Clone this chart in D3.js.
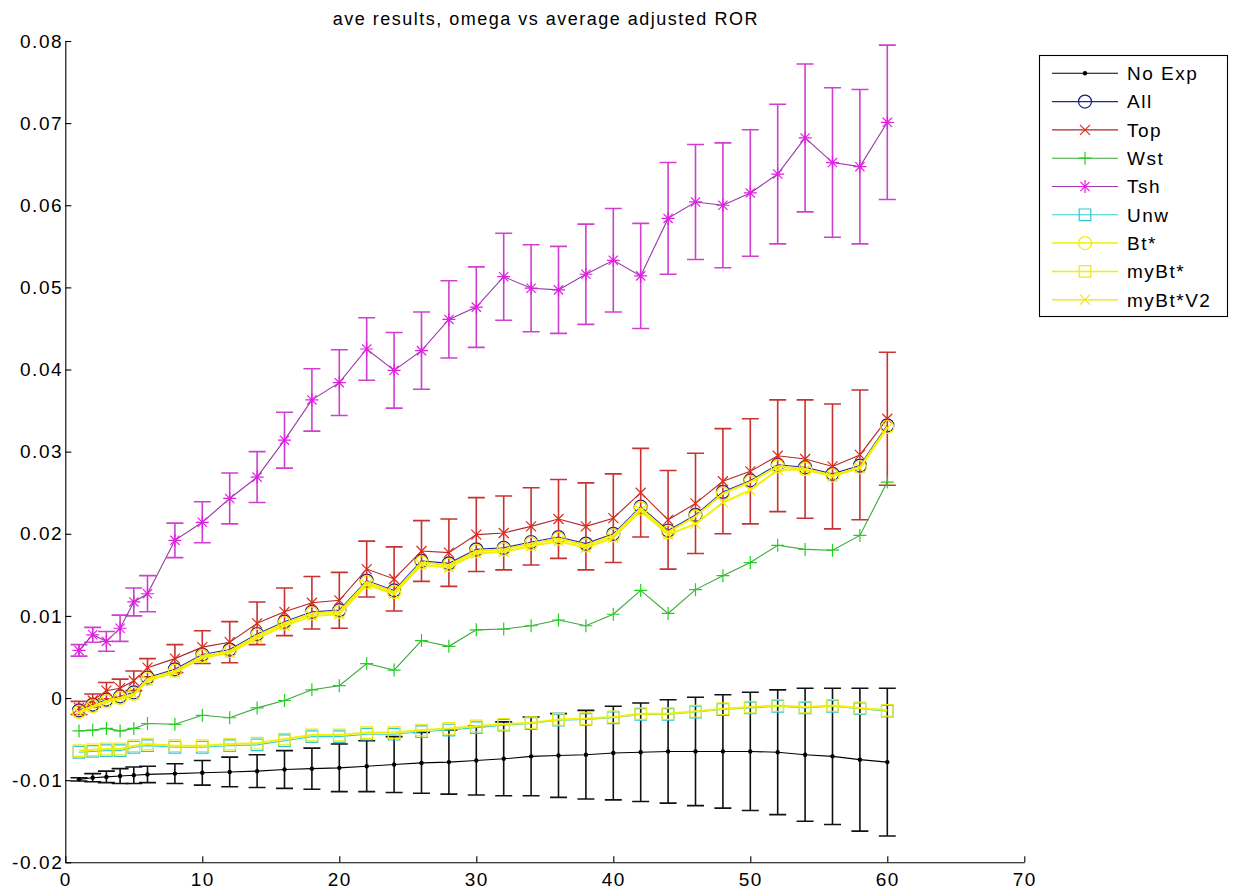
<!DOCTYPE html>
<html><head><meta charset="utf-8">
<script src="https://cdn.jsdelivr.net/npm/d3@7"></script>
<style>
body{margin:0;background:#fff}
svg{display:block}
text{font-family:"Liberation Sans",Arial,Helvetica,sans-serif}
</style>
</head><body>
<svg id="c" width="1233" height="895"></svg>
<script>
const xVals=[1,2,3,4,5,6,8,10,12,14,16,18,20,22,24,26,28,30,32,34,36,38,40,42,44,46,48,50,52,54,56,58,60];
const xTicks=[0,10,20,30,40,50,60,70];
const yTicks=[-0.02,-0.01,0,0.01,0.02,0.03,0.04,0.05,0.06,0.07,0.08];
const seriesNames=["No Exp","All","Top","Wst","Tsh","Unw","Bt*","myBt*","myBt*V2"];

const noExpV=[-0.0099,-0.0097,-0.0096,-0.0095,-0.0094,-0.0093,-0.0092,-0.0091,-0.0090,-0.0089,-0.0087,-0.0086,-0.0085,-0.0083,-0.0081,-0.0079,-0.0078,-0.0076,-0.0074,-0.0071,-0.0070,-0.0069,-0.0067,-0.0066,-0.0065,-0.0065,-0.0065,-0.0065,-0.0066,-0.0069,-0.0071,-0.0075,-0.0078];
const noExpErr=[0.0002,0.0005,0.0007,0.0009,0.0010,0.0010,0.0012,0.0015,0.0018,0.0020,0.0023,0.0025,0.0029,0.0031,0.0034,0.0037,0.0039,0.0042,0.0045,0.0048,0.0051,0.0054,0.0057,0.0060,0.0063,0.0066,0.0069,0.0072,0.0076,0.0081,0.0083,0.0087,0.0090];
const allV=[-0.0015,-0.0008,-0.0002,0.0002,0.0007,0.0025,0.0035,0.0053,0.0059,0.0078,0.0093,0.0105,0.0107,0.0143,0.0131,0.0167,0.0164,0.0181,0.0183,0.0190,0.0196,0.0188,0.0200,0.0233,0.0204,0.0223,0.0251,0.0265,0.0284,0.0281,0.0273,0.0283,0.0332];
const topV=[-0.0012,-0.0003,0.0009,0.0012,0.0021,0.0037,0.0048,0.0062,0.0068,0.0091,0.0105,0.0116,0.0119,0.0157,0.0145,0.0179,0.0177,0.0199,0.0201,0.0209,0.0218,0.0209,0.0219,0.0250,0.0217,0.0237,0.0264,0.0276,0.0295,0.0291,0.0282,0.0296,0.0340];
const topErr=[0.0008,0.0008,0.0010,0.0011,0.0012,0.0011,0.0017,0.0020,0.0025,0.0026,0.0029,0.0032,0.0034,0.0034,0.0039,0.0037,0.0041,0.0045,0.0045,0.0047,0.0048,0.0053,0.0054,0.0054,0.0060,0.0061,0.0064,0.0064,0.0068,0.0072,0.0076,0.0079,0.0081];
const wstV=[-0.0040,-0.0039,-0.0037,-0.0040,-0.0037,-0.0031,-0.0032,-0.0021,-0.0024,-0.0012,-0.0003,0.0010,0.0015,0.0042,0.0034,0.0070,0.0063,0.0083,0.0084,0.0088,0.0095,0.0088,0.0102,0.0131,0.0103,0.0132,0.0149,0.0165,0.0186,0.0181,0.0180,0.0198,0.0263];
const tshV=[0.0058,0.0077,0.0069,0.0085,0.0117,0.0127,0.0192,0.0214,0.0243,0.0269,0.0314,0.0363,0.0384,0.0425,0.0399,0.0423,0.0461,0.0476,0.0513,0.0499,0.0497,0.0516,0.0533,0.0514,0.0584,0.0604,0.0600,0.0615,0.0638,0.0682,0.0652,0.0647,0.0701];
const tshErr=[0.0007,0.0009,0.0012,0.0016,0.0017,0.0022,0.0021,0.0025,0.0031,0.0031,0.0034,0.0038,0.0040,0.0038,0.0046,0.0047,0.0047,0.0049,0.0053,0.0053,0.0053,0.0061,0.0063,0.0064,0.0068,0.0070,0.0076,0.0077,0.0085,0.0090,0.0091,0.0094,0.0094];
const unwV=[-0.0066,-0.0065,-0.0064,-0.0064,-0.0060,-0.0058,-0.0060,-0.0060,-0.0058,-0.0057,-0.0052,-0.0047,-0.0047,-0.0044,-0.0044,-0.0041,-0.0039,-0.0036,-0.0033,-0.0031,-0.0027,-0.0026,-0.0024,-0.0020,-0.0020,-0.0017,-0.0014,-0.0012,-0.0010,-0.0012,-0.0010,-0.0013,-0.0016];
const btV=[-0.0017,-0.0010,-0.0004,0.0000,0.0005,0.0023,0.0033,0.0051,0.0057,0.0076,0.0091,0.0103,0.0105,0.0141,0.0129,0.0165,0.0162,0.0179,0.0181,0.0188,0.0194,0.0186,0.0198,0.0231,0.0202,0.0221,0.0249,0.0263,0.0282,0.0279,0.0271,0.0281,0.0330];
const myBtV=[-0.0064,-0.0063,-0.0062,-0.0062,-0.0058,-0.0056,-0.0058,-0.0058,-0.0056,-0.0055,-0.0050,-0.0045,-0.0045,-0.0042,-0.0042,-0.0039,-0.0037,-0.0034,-0.0032,-0.0030,-0.0026,-0.0025,-0.0023,-0.0019,-0.0019,-0.0016,-0.0013,-0.0011,-0.0009,-0.0011,-0.0009,-0.0012,-0.0015];
const myBtV2V=[-0.0018,-0.0011,-0.0005,-0.0001,0.0004,0.0021,0.0031,0.0049,0.0055,0.0073,0.0088,0.0100,0.0102,0.0138,0.0127,0.0162,0.0159,0.0176,0.0178,0.0185,0.0191,0.0183,0.0195,0.0228,0.0199,0.0212,0.0238,0.0253,0.0278,0.0278,0.0270,0.0280,0.0329];

const YEL="#f4f000";
const series=[
 {name:seriesNames[0],v:noExpV,err:noExpErr,marker:"dot",line:"#000",mk:"#000",ec:"#111"},
 {name:seriesNames[1],v:allV,err:null,marker:"circle",line:"#2222b0",mk:"#1a1a80",ec:null},
 {name:seriesNames[2],v:topV,err:topErr,marker:"x",line:"#b02828",mk:"#e02a1a",ec:"#c83232"},
 {name:seriesNames[3],v:wstV,err:null,marker:"plus",line:"#3aa83a",mk:"#22d022",ec:null},
 {name:seriesNames[4],v:tshV,err:tshErr,marker:"star",line:"#9838a8",mk:"#e020e0",ec:"#d040d0"},
 {name:seriesNames[5],v:unwV,err:null,marker:"square",line:"#30d0d8",mk:"#30c8d8",ec:null},
 {name:seriesNames[6],v:btV,err:null,marker:"circle",line:YEL,mk:"#f4ee00",ec:null},
 {name:seriesNames[7],v:myBtV,err:null,marker:"square",line:YEL,mk:"#eeea10",ec:null},
 {name:seriesNames[8],v:myBtV2V,err:null,marker:"x",line:YEL,mk:"#eeea10",ec:null}
];

const svg=d3.select("#c");
const x=d3.scaleLinear().domain([0,70]).range([65.3,1024.3]);
const y=d3.scaleLinear().domain([-0.02,0.08]).range([862.3,41]);
const FONT='"Liberation Sans",Arial,Helvetica,sans-serif';

// title
svg.append("text").attr("x",(x.range()[0]+x.range()[1])/2+1).attr("y",24.5)
  .attr("text-anchor","middle").attr("font-size",18).attr("letter-spacing","1.5px")
  .attr("fill","#000").text("ave results, omega vs average adjusted ROR");

// axes
const fmtY=d=>d===0?"0":d.toFixed(2);
const gx=svg.append("g").attr("transform",`translate(0,${y(-0.02)})`)
  .call(d3.axisBottom(x).tickValues(xTicks).tickSizeInner(-6).tickSizeOuter(0).tickPadding(10).tickFormat(d=>String(d)));
const gy=svg.append("g").attr("transform",`translate(${x(0)},0)`)
  .call(d3.axisLeft(y).tickValues(yTicks).tickSizeInner(-6).tickSizeOuter(0).tickPadding(2).tickFormat(fmtY));
[gx,gy].forEach(g=>{
  g.attr("font-family",FONT).attr("font-size",19);
  g.selectAll("path,line").attr("stroke","#000").attr("stroke-width",1.1);
  g.selectAll("text").attr("fill","#000").attr("letter-spacing","1.6px");
});

function markerPath(type){
  const p=d3.path();
  switch(type){
    case "x": return "M-5,-5L5,5M-5,5L5,-5";
    case "plus": return "M-6.5,0H6.5M0,-6.5V6.5";
    case "star": return "M-6.5,0H6.5M0,-6.5V6.5M-4.6,-4.6L4.6,4.6M-4.6,4.6L4.6,-4.6";
    case "square": return "M-5.8,-5.8H5.8V5.8H-5.8Z";
    case "circle": p.arc(0,0,6.5,0,2*Math.PI); return p.toString();
    case "dot": p.arc(0,0,2.2,0,2*Math.PI); return p.toString();
  }
}

const lineGen=d3.line().x(d=>x(d[0])).y(d=>y(d[1]));
const cap=0.62; // cap half-width in x units

series.forEach(s=>{
  const pts=xVals.map((xv,i)=>[xv,s.v[i]]);
  const g=svg.append("g");
  if(s.err){
    const eg=g.append("g").attr("stroke",s.ec).attr("stroke-width",1.6).attr("fill","none");
    pts.forEach((p,i)=>{
      const lo=p[1]-s.err[i], hi=p[1]+s.err[i];
      eg.append("path").attr("d",
        `M${x(p[0])},${y(lo)}V${y(hi)}`+
        `M${x(p[0]-cap)},${y(hi)}H${x(p[0]+cap)}`+
        `M${x(p[0]-cap)},${y(lo)}H${x(p[0]+cap)}`);
    });
  }
  g.append("path").attr("d",lineGen(pts)).attr("fill","none").attr("stroke",s.line).attr("stroke-width",s.line===YEL?2:1.1);
  g.selectAll(".m").data(pts).enter().append("path")
    .attr("transform",d=>`translate(${x(d[0])},${y(d[1])})`)
    .attr("d",markerPath(s.marker))
    .attr("fill",s.marker==="dot"?s.mk:"none")
    .attr("stroke",s.mk).attr("stroke-width",s.marker==="dot"?0:1.2);
});

// legend
const lg=svg.append("g");
lg.append("rect").attr("x",1039.5).attr("y",55.5).attr("width",188).attr("height",261)
  .attr("fill","#fff").attr("stroke","#000").attr("stroke-width",1.1);
series.forEach((s,i)=>{
  const yy=73.3+i*28.3;
  lg.append("line").attr("x1",1052).attr("x2",1118).attr("y1",yy).attr("y2",yy)
    .attr("stroke",s.line).attr("stroke-width",s.line===YEL?1.5:1.1);
  lg.append("path").attr("transform",`translate(1085,${yy})`).attr("d",markerPath(s.marker))
    .attr("fill",s.marker==="dot"?s.mk:"none").attr("stroke",s.mk).attr("stroke-width",s.marker==="dot"?0:1.2);
  lg.append("text").attr("x",1127).attr("y",yy).attr("dy","0.36em")
    .attr("font-size",19).attr("letter-spacing","1.5px").attr("fill","#000").text(s.name);
});
</script>
</body></html>
